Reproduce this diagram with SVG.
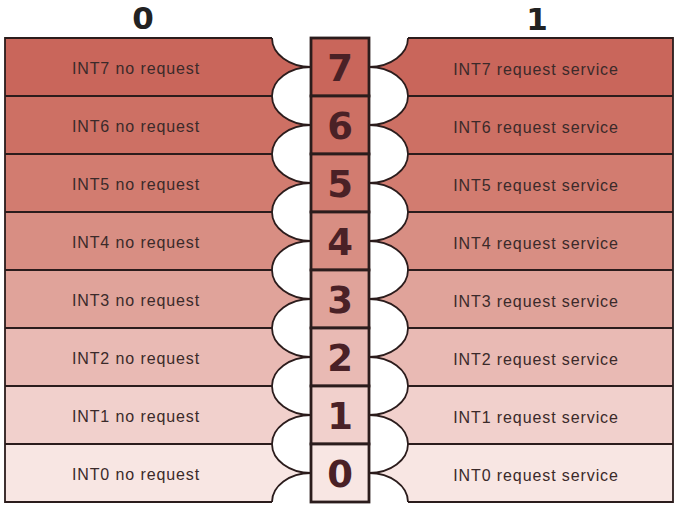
<svg xmlns="http://www.w3.org/2000/svg" width="675" height="505" viewBox="0 0 675 505">
<defs>
<style>
.ln{stroke:#2b1c1c;stroke-width:1.8;fill:none}
.lens{fill:#ffffff;stroke:#2b1c1c;stroke-width:1.8}
.box{stroke:#2b1c1c;stroke-width:2.8}
.t{font-family:"Liberation Sans",Arial,sans-serif;font-size:16px;letter-spacing:0.9px;fill:#3b2a2a;text-anchor:middle}
.d{font-family:"DejaVu Sans",sans-serif;font-weight:bold;font-size:37px;fill:#4a2126;text-anchor:middle}
.h{font-family:"DejaVu Sans",sans-serif;font-weight:bold;font-size:31px;fill:#222222;text-anchor:middle}
.c7{fill:#c9665b}.c6{fill:#cd7064}.c5{fill:#d27c70}.c4{fill:#d88e83}
.c3{fill:#e0a39a}.c2{fill:#e9bab4}.c1{fill:#f1d0cc}.c0{fill:#f8e6e3}
</style>
<clipPath id="tbl"><rect x="0" y="38" width="675" height="464"/></clipPath>
</defs>
<rect width="675" height="505" fill="#ffffff"/>
<text class="h" x="143" y="29">0</text>
<text class="h" x="537" y="30">1</text>

<g id="rows0">
<g id="row0-7"><rect class="c7" x="5" y="38" width="306" height="58"/><text class="t" x="136" y="74">INT7 no request</text></g>
<g id="row0-6"><rect class="c6" x="5" y="96" width="306" height="58"/><text class="t" x="136" y="132">INT6 no request</text></g>
<g id="row0-5"><rect class="c5" x="5" y="154" width="306" height="58"/><text class="t" x="136" y="190">INT5 no request</text></g>
<g id="row0-4"><rect class="c4" x="5" y="212" width="306" height="58"/><text class="t" x="136" y="248">INT4 no request</text></g>
<g id="row0-3"><rect class="c3" x="5" y="270" width="306" height="58"/><text class="t" x="136" y="306">INT3 no request</text></g>
<g id="row0-2"><rect class="c2" x="5" y="328" width="306" height="58"/><text class="t" x="136" y="364">INT2 no request</text></g>
<g id="row0-1"><rect class="c1" x="5" y="386" width="306" height="58"/><text class="t" x="136" y="422">INT1 no request</text></g>
<g id="row0-0"><rect class="c0" x="5" y="444" width="306" height="58"/><text class="t" x="136" y="480">INT0 no request</text></g>
</g>

<g id="rows1">
<g id="row1-7"><rect class="c7" x="369" y="38" width="304" height="58"/><text class="t" x="536" y="75">INT7 request service</text></g>
<g id="row1-6"><rect class="c6" x="369" y="96" width="304" height="58"/><text class="t" x="536" y="133">INT6 request service</text></g>
<g id="row1-5"><rect class="c5" x="369" y="154" width="304" height="58"/><text class="t" x="536" y="191">INT5 request service</text></g>
<g id="row1-4"><rect class="c4" x="369" y="212" width="304" height="58"/><text class="t" x="536" y="249">INT4 request service</text></g>
<g id="row1-3"><rect class="c3" x="369" y="270" width="304" height="58"/><text class="t" x="536" y="307">INT3 request service</text></g>
<g id="row1-2"><rect class="c2" x="369" y="328" width="304" height="58"/><text class="t" x="536" y="365">INT2 request service</text></g>
<g id="row1-1"><rect class="c1" x="369" y="386" width="304" height="58"/><text class="t" x="536" y="423">INT1 request service</text></g>
<g id="row1-0"><rect class="c0" x="369" y="444" width="304" height="58"/><text class="t" x="536" y="481">INT0 request service</text></g>
</g>

<g id="grid">
<path class="ln" d="M5,38H272M5,96H272M5,154H272M5,212H272M5,270H272M5,328H272M5,386H272M5,444H272M5,502H272M5,37.1V502.9"/>
<path class="ln" d="M408,38H673M408,96H673M408,154H673M408,212H673M408,270H673M408,328H673M408,386H673M408,444H673M408,502H673M673,37.1V502.9"/>
</g>

<g id="lenses" clip-path="url(#tbl)">
<ellipse class="lens" cx="311" cy="38" rx="39" ry="29"/>
<ellipse class="lens" cx="311" cy="96" rx="39" ry="29"/>
<ellipse class="lens" cx="311" cy="154" rx="39" ry="29"/>
<ellipse class="lens" cx="311" cy="212" rx="39" ry="29"/>
<ellipse class="lens" cx="311" cy="270" rx="39" ry="29"/>
<ellipse class="lens" cx="311" cy="328" rx="39" ry="29"/>
<ellipse class="lens" cx="311" cy="386" rx="39" ry="29"/>
<ellipse class="lens" cx="311" cy="444" rx="39" ry="29"/>
<ellipse class="lens" cx="311" cy="502" rx="39" ry="29"/>
<ellipse class="lens" cx="369" cy="38" rx="39" ry="29"/>
<ellipse class="lens" cx="369" cy="96" rx="39" ry="29"/>
<ellipse class="lens" cx="369" cy="154" rx="39" ry="29"/>
<ellipse class="lens" cx="369" cy="212" rx="39" ry="29"/>
<ellipse class="lens" cx="369" cy="270" rx="39" ry="29"/>
<ellipse class="lens" cx="369" cy="328" rx="39" ry="29"/>
<ellipse class="lens" cx="369" cy="386" rx="39" ry="29"/>
<ellipse class="lens" cx="369" cy="444" rx="39" ry="29"/>
<ellipse class="lens" cx="369" cy="502" rx="39" ry="29"/>
</g>

<g id="column">
<g id="bit7"><rect class="box c7" x="311" y="38" width="58" height="58"/><text class="d" x="340" y="81">7</text></g>
<g id="bit6"><rect class="box c6" x="311" y="96" width="58" height="58"/><text class="d" x="340" y="139">6</text></g>
<g id="bit5"><rect class="box c5" x="311" y="154" width="58" height="58"/><text class="d" x="340" y="197">5</text></g>
<g id="bit4"><rect class="box c4" x="311" y="212" width="58" height="58"/><text class="d" x="340" y="255">4</text></g>
<g id="bit3"><rect class="box c3" x="311" y="270" width="58" height="58"/><text class="d" x="340" y="313">3</text></g>
<g id="bit2"><rect class="box c2" x="311" y="328" width="58" height="58"/><text class="d" x="340" y="371">2</text></g>
<g id="bit1"><rect class="box c1" x="311" y="386" width="58" height="58"/><text class="d" x="340" y="429">1</text></g>
<g id="bit0"><rect class="box c0" x="311" y="444" width="58" height="58"/><text class="d" x="340" y="487">0</text></g>
</g>
</svg>
